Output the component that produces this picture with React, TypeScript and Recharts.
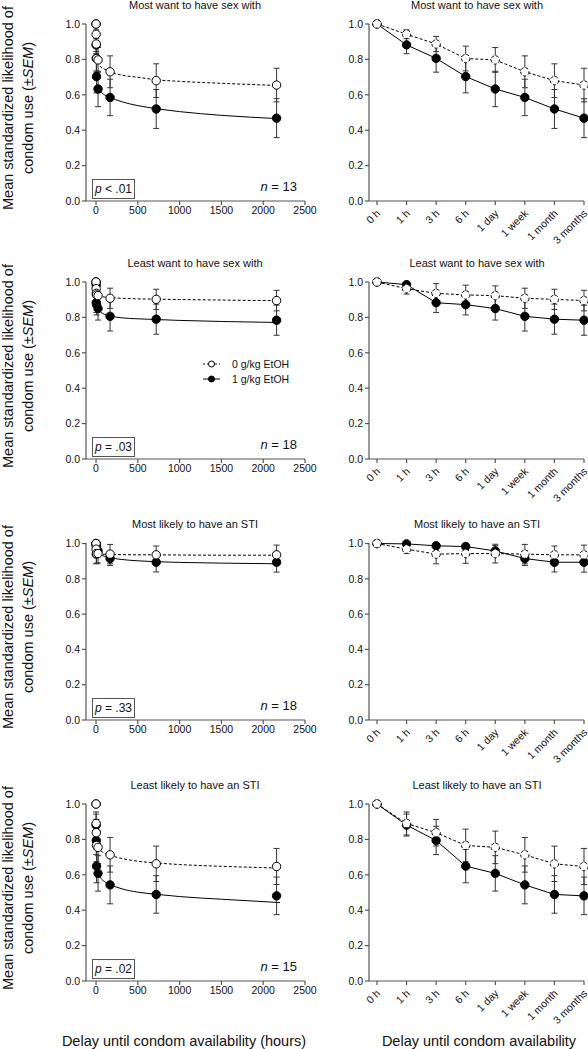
import React from "react";
import { ComposedChart, Line, XAxis, YAxis, ErrorBar } from "recharts";

const delayLabels = ["0 h", "1 h", "3 h", "6 h", "1 day", "1 week", "1 month", "3 months"];
const delayHours = [0, 1, 3, 6, 24, 168, 720, 2160];
const fitHours = [24, 60, 100, 168, 300, 500, 720, 1000, 1500, 2200];
const yTicks = [0, 0.2, 0.4, 0.6, 0.8, 1.0];
const hourTicks = [0, 500, 1000, 1500, 2000, 2500];

// Most want to have sex with
const mostWantPlacebo = [1.0, 0.942, 0.887, 0.805, 0.797, 0.73, 0.68, 0.655];
const mostWantPlaceboSem = [0, 0.025, 0.043, 0.07, 0.07, 0.09, 0.095, 0.095];
const mostWantAlcohol = [1.0, 0.882, 0.806, 0.703, 0.633, 0.585, 0.52, 0.468];
const mostWantAlcoholSem = [0, 0.05, 0.078, 0.092, 0.1, 0.103, 0.11, 0.11];
const mostWantPlaceboFit = [0.79, 0.755, 0.745, 0.73, 0.712, 0.699, 0.685, 0.676, 0.665, 0.652];
const mostWantAlcoholFit = [0.645, 0.615, 0.6, 0.585, 0.562, 0.539, 0.522, 0.505, 0.484, 0.465];

// Least want to have sex with
const leastWantPlacebo = [1.0, 0.962, 0.936, 0.927, 0.923, 0.908, 0.902, 0.895];
const leastWantPlaceboSem = [0, 0.03, 0.055, 0.055, 0.055, 0.057, 0.057, 0.058];
const leastWantAlcohol = [1.0, 0.985, 0.883, 0.872, 0.85, 0.806, 0.79, 0.784];
const leastWantAlcoholSem = [0, 0.012, 0.055, 0.058, 0.065, 0.083, 0.085, 0.085];
const leastWantPlaceboFit = [0.925, 0.918, 0.915, 0.912, 0.908, 0.905, 0.903, 0.901, 0.898, 0.894];
const leastWantAlcoholFit = [0.848, 0.828, 0.818, 0.808, 0.798, 0.792, 0.788, 0.783, 0.777, 0.771];

// Most likely to have an STI
const mostStiPlacebo = [1.0, 0.968, 0.94, 0.943, 0.943, 0.94, 0.936, 0.936];
const mostStiPlaceboSem = [0, 0.025, 0.055, 0.055, 0.053, 0.055, 0.05, 0.055];
const mostStiAlcohol = [1.0, 0.998, 0.987, 0.983, 0.958, 0.915, 0.894, 0.894];
const mostStiAlcoholSem = [0, 0.005, 0.01, 0.01, 0.03, 0.04, 0.055, 0.056];
const mostStiPlaceboFit = [0.942, 0.94, 0.939, 0.938, 0.937, 0.936, 0.936, 0.935, 0.934, 0.934];
const mostStiAlcoholFit = [0.945, 0.935, 0.928, 0.92, 0.91, 0.902, 0.897, 0.893, 0.889, 0.885];

// Least likely to have an STI
const leastStiPlacebo = [1.0, 0.89, 0.838, 0.766, 0.755, 0.713, 0.662, 0.647];
const leastStiPlaceboSem = [0, 0.065, 0.075, 0.092, 0.092, 0.098, 0.1, 0.102];
const leastStiAlcohol = [1.0, 0.881, 0.794, 0.649, 0.608, 0.543, 0.489, 0.481];
const leastStiAlcoholSem = [0, 0.062, 0.08, 0.094, 0.1, 0.107, 0.106, 0.106];
const leastStiPlaceboFit = [0.76, 0.735, 0.722, 0.71, 0.693, 0.677, 0.667, 0.658, 0.648, 0.638];
const leastStiAlcoholFit = [0.62, 0.58, 0.562, 0.545, 0.522, 0.502, 0.49, 0.477, 0.462, 0.443];

const titles = [
  "Most want to have sex with",
  "Least want to have sex with",
  "Most likely to have an STI",
  "Least likely to have an STI",
];
const pLabels = ["< .01", "= .03", "= .33", "= .02"];
const nLabels = ["13", "18", "18", "15"];

const FONT = "'Liberation Sans', Arial, sans-serif";
const AXIS = "#555";
const panelTops = [0, 258, 519, 780];

const panels = [
  [mostWantPlacebo, mostWantPlaceboSem, mostWantAlcohol, mostWantAlcoholSem, mostWantPlaceboFit, mostWantAlcoholFit],
  [leastWantPlacebo, leastWantPlaceboSem, leastWantAlcohol, leastWantAlcoholSem, leastWantPlaceboFit, leastWantAlcoholFit],
  [mostStiPlacebo, mostStiPlaceboSem, mostStiAlcohol, mostStiAlcoholSem, mostStiPlaceboFit, mostStiAlcoholFit],
  [leastStiPlacebo, leastStiPlaceboSem, leastStiAlcohol, leastStiAlcoholSem, leastStiPlaceboFit, leastStiAlcoholFit],
].map(([placebo, placeboSem, alcohol, alcoholSem, placeboFit, alcoholFit]) => ({
  rows: delayHours.map((h, i) => ({
    h,
    idx: i,
    placebo: placebo[i],
    placeboSem: placeboSem[i],
    alcohol: alcohol[i],
    alcoholSem: alcoholSem[i],
  })),
  placeboFit: fitHours.map((h, i) => ({ h, v: placeboFit[i] })),
  alcoholFit: fitHours.map((h, i) => ({ h, v: alcoholFit[i] })),
}));

const tickStyle = { fontSize: 10.5, fill: "#111", fontFamily: FONT };
const openDot = { r: 4.2, fill: "#fff", stroke: "#000", strokeWidth: 1 };
const fullDot = { r: 4.2, fill: "#000", stroke: "#000", strokeWidth: 1 };

const DelayTick = (props: any) => {
  const { x, y, payload } = props;
  const ax = x + 4;
  const ay = y + 7;
  return (
    <text
      x={ax}
      y={ay}
      transform={`rotate(-45 ${ax} ${ay})`}
      textAnchor="end"
      fontSize={10.5}
      fill="#111"
      fontFamily={FONT}
    >
      {delayLabels[payload.value]}
    </text>
  );
};

function HoursChart({ panel }: { panel: (typeof panels)[number] }) {
  return (
    <ComposedChart
      width={325}
      height={226}
      data={panel.rows}
      margin={{ top: 24, right: 20, left: 50, bottom: 0 }}
    >
      <XAxis
        type="number"
        dataKey="h"
        domain={[-120, 2500]}
        ticks={hourTicks}
        height={25}
        tick={tickStyle}
        tickSize={4}
        tickMargin={2}
        stroke={AXIS}
        strokeWidth={1.2}
      />
      <YAxis
        type="number"
        domain={[0, 1]}
        ticks={yTicks}
        width={36}
        tick={tickStyle}
        tickSize={4}
        tickMargin={2}
        tickFormatter={(v: number) => v.toFixed(1)}
        stroke={AXIS}
        strokeWidth={1.2}
      />
      <Line data={panel.alcoholFit} dataKey="v" type="monotone" stroke="#000" strokeWidth={1} dot={false} activeDot={false} isAnimationActive={false} />
      <Line data={panel.placeboFit} dataKey="v" type="monotone" stroke="#000" strokeWidth={1} strokeDasharray="3 2" dot={false} activeDot={false} isAnimationActive={false} />
      <Line dataKey="alcohol" stroke="none" dot={fullDot} activeDot={false} isAnimationActive={false}>
        <ErrorBar dataKey="alcoholSem" width={3} stroke="#333" strokeWidth={1} direction="y" />
      </Line>
      <Line dataKey="placebo" stroke="none" dot={openDot} activeDot={false} isAnimationActive={false}>
        <ErrorBar dataKey="placeboSem" width={3} stroke="#333" strokeWidth={1} direction="y" />
      </Line>
    </ComposedChart>
  );
}

function DelayChart({ panel }: { panel: (typeof panels)[number] }) {
  return (
    <ComposedChart
      width={288}
      height={256}
      data={panel.rows}
      margin={{ top: 24, right: 4, left: 30, bottom: 0 }}
    >
      <XAxis
        type="number"
        dataKey="idx"
        domain={[-0.27, 7]}
        ticks={[0, 1, 2, 3, 4, 5, 6, 7]}
        height={55}
        tick={<DelayTick />}
        tickSize={4}
        tickMargin={2}
        interval={0}
        stroke={AXIS}
        strokeWidth={1.2}
      />
      <YAxis
        type="number"
        domain={[0, 1]}
        ticks={yTicks}
        width={39}
        tick={tickStyle}
        tickSize={4}
        tickMargin={2}
        tickFormatter={(v: number) => v.toFixed(1)}
        stroke={AXIS}
        strokeWidth={1.2}
      />
      <Line dataKey="alcohol" stroke="#000" strokeWidth={1} dot={fullDot} activeDot={false} isAnimationActive={false}>
        <ErrorBar dataKey="alcoholSem" width={3} stroke="#333" strokeWidth={1} direction="y" />
      </Line>
      <Line dataKey="placebo" stroke="#000" strokeWidth={1} strokeDasharray="3 2" dot={openDot} activeDot={false} isAnimationActive={false}>
        <ErrorBar dataKey="placeboSem" width={3} stroke="#333" strokeWidth={1} direction="y" />
      </Line>
    </ComposedChart>
  );
}

const abs = (left: number, top: number): React.CSSProperties => ({ position: "absolute", left, top });

export default function App() {
  return (
    <div style={{ position: "absolute", left: 0, top: 0, width: 588, height: 1049, background: "#fff", fontFamily: FONT, color: "#111", overflow: "hidden" }}>
      {panels.map((panel, i) => {
        const T = panelTops[i];
        return (
          <React.Fragment key={i}>
            <div style={abs(0, T)}>
              <HoursChart panel={panel} />
            </div>
            <div style={abs(300, T)}>
              <DelayChart panel={panel} />
            </div>
            {/* titles */}
            <div style={{ ...abs(95, T - 2), width: 200, textAlign: "center", fontSize: 11, lineHeight: "14px" }}>{titles[i]}</div>
            <div style={{ ...abs(377, T - 2), width: 200, textAlign: "center", fontSize: 11, lineHeight: "14px" }}>{titles[i]}</div>
            {/* p box and n */}
            <div style={{ ...abs(92, T + 179), width: 41, height: 18, border: "1px solid #555", fontSize: 12, lineHeight: "18px", textAlign: "center" }}>
              <i>p</i> {pLabels[i]}
            </div>
            <div style={{ ...abs(230, T + 179), width: 67, textAlign: "right", fontSize: 13, lineHeight: "16px" }}>
              <i>n</i> = {nLabels[i]}
            </div>
            {/* y label */}
            <svg style={abs(0, T)} width={45} height={230}>
              <text transform="translate(13,108) rotate(-90)" textAnchor="middle" fontSize={14.5} fontFamily={FONT} fill="#111">
                Mean standardized likelihood of
              </text>
              <text transform="translate(33,108) rotate(-90)" textAnchor="middle" fontSize={14.5} fontFamily={FONT} fill="#111">
                condom use (±<tspan fontStyle="italic">SEM</tspan>)
              </text>
            </svg>
          </React.Fragment>
        );
      })}
      {/* legend */}
      <svg style={abs(200, 356)} width={24} height={30}>
        <line x1={3} x2={20} y1={8} y2={8} stroke="#000" strokeWidth={1} strokeDasharray="2 2" />
        <circle cx={11.5} cy={8} r={3} fill="#fff" stroke="#000" />
        <line x1={3} x2={20} y1={23} y2={23} stroke="#000" strokeWidth={1} />
        <circle cx={11.5} cy={23} r={3} fill="#000" stroke="#000" />
      </svg>
      <div style={{ ...abs(232, 357), fontSize: 10.5, lineHeight: "15px" }}>
        <div>0 g/kg EtOH</div>
        <div>1 g/kg EtOH</div>
      </div>
      {/* x axis titles */}
      <div style={{ ...abs(34, 1032), width: 300, textAlign: "center", fontSize: 14.5, lineHeight: "18px" }}>
        Delay until condom availability (hours)
      </div>
      <div style={{ ...abs(329, 1032), width: 300, textAlign: "center", fontSize: 14.5, lineHeight: "18px" }}>
        Delay until condom availability
      </div>
    </div>
  );
}
